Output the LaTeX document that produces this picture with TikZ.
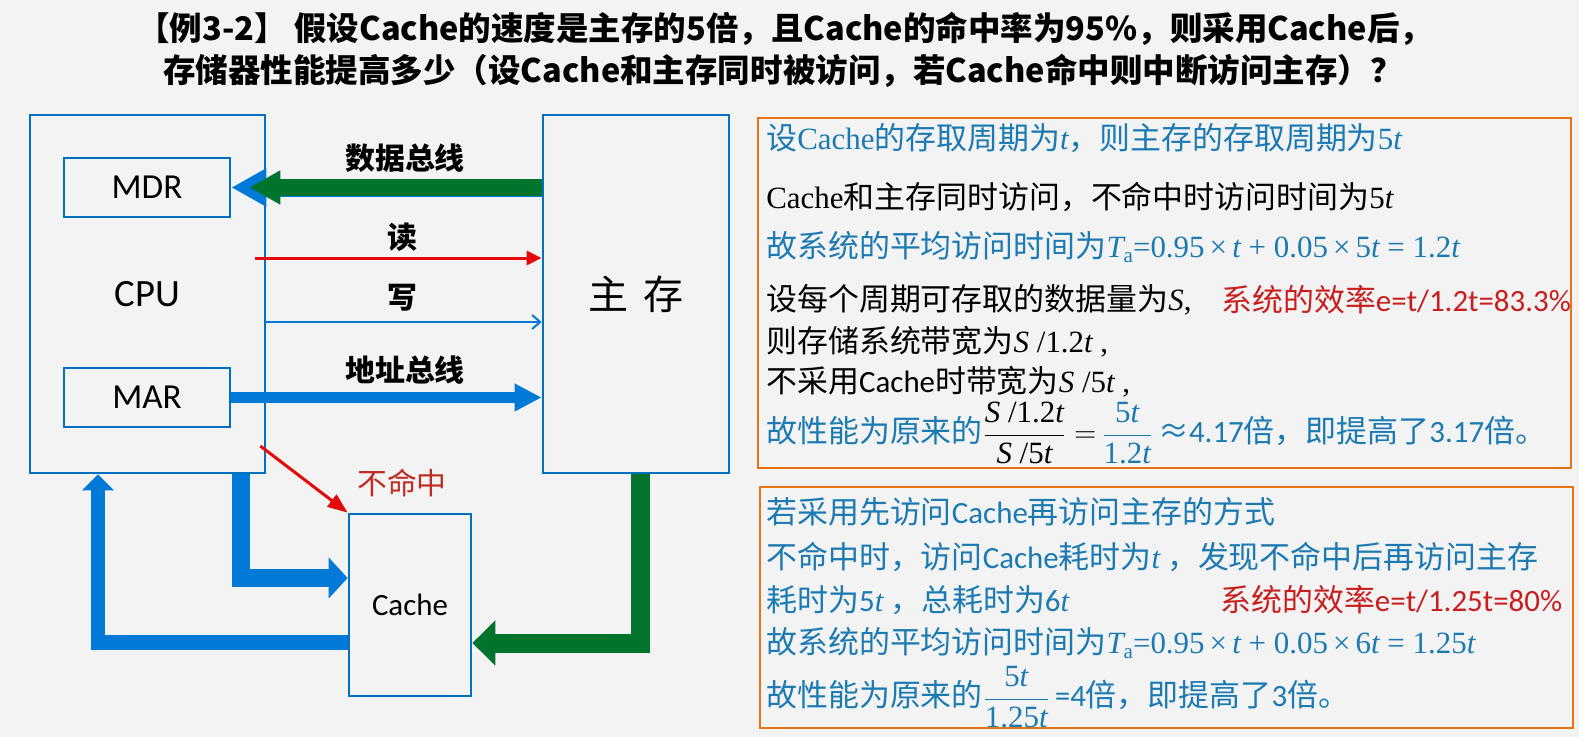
\documentclass[tikz,border=0pt]{standalone}
\usepackage{amsmath}
\usepackage{fontspec}
\usepackage{xcolor}
\usepackage{tikz}
\usetikzlibrary{arrows.meta, positioning, calc}
\setmainfont{Noto Sans CJK SC}
\newfontfamily\tnr{Liberation Serif}
\newfontfamily\cali{Carlito}
\definecolor{BoxBlue}{RGB}{0, 112, 192}
\definecolor{BusBlue}{RGB}{0, 122, 214}
\definecolor{BusGreen}{RGB}{0, 115, 45}
\definecolor{ReadRed}{RGB}{228, 10, 10}
\definecolor{MissRed}{RGB}{190, 45, 35}
\definecolor{NoteBlue}{RGB}{27, 122, 178}
\definecolor{NoteRed}{RGB}{200, 30, 30}
\definecolor{FrameOrange}{RGB}{232, 115, 20}
\definecolor{PageGrey}{RGB}{243, 243, 243}
\newcommand{\tmit}[1]{{\tnr\itshape #1}}
\newcommand{\tmrm}[1]{{\tnr #1}}
\newcommand{\clbr}[1]{{\cali #1}}
\newcommand{\Tavg}{\tmit{T}\raisebox{-0.35ex}{\tmrm{\fontsize{12}{12}\selectfont a}}}

\begin{document}
\begin{tikzpicture}[
    x=0.02cm, y=-0.02cm,
    box/.style={draw=BoxBlue, line width=0.055cm, inner sep=0pt},
    notebox/.style={draw=FrameOrange, line width=0.04cm, inner sep=0pt},
    buslabel/.style={inner sep=0pt, font=\fontsize{17}{20}\selectfont\bfseries},
    note/.style={anchor=west, inner sep=0pt, font=\fontsize{17.6}{21}\selectfont},
    titleline/.style={anchor=west, inner sep=0pt, font=\fontsize{18.5}{22}\selectfont\bfseries}
  ]
    \fill[PageGrey] (0,0) rectangle (1579,737);
    \useasboundingbox (0,0) rectangle (1579,737);

    % question
    \node[titleline] (q1) at (137,29) {【例3-2】 假设Cache的速度是主存的5倍，且Cache的命中率为95\%，则采用Cache后，};
    \node[titleline] (q2) at (163,71) {存储器性能提高多少（设Cache和主存同时被访问，若Cache命中则中断访问主存）？};

    % blocks
    \node[box, minimum width=4.7cm, minimum height=7.16cm,
      font=\cali\fontsize{22}{24}\selectfont] (cpu) at (147.5,294) {CPU};
    \node[box, minimum width=3.32cm, minimum height=1.18cm,
      font=\cali\fontsize{20}{22}\selectfont] (mdr) at (147,187.5) {MDR};
    \node[box, minimum width=3.32cm, minimum height=1.18cm,
      font=\cali\fontsize{20}{22}\selectfont] (mar) at (147,397.5) {MAR};
    \node[box, minimum width=3.72cm, minimum height=7.16cm,
      font=\fontsize{22.8}{24}\selectfont] (mem) at (636,294) {主\hspace{0.35em}存};
    \node[box, minimum width=2.44cm, minimum height=3.64cm,
      font=\cali\fontsize{17.6}{20}\selectfont] (cache) at (410,605) {Cache};

    % buses
    \draw[BusBlue, line width=0.36cm, -{Triangle[length=0.7cm, width=0.72cm]}]
      (mem.west |- mdr.east) -- (mdr.east);
    \draw[BusGreen, line width=0.34cm, -{Triangle[length=0.62cm, width=0.64cm]}]
      (mem.west |- mdr.east) -- ($(mdr.east)+(18,0)$);
    \draw[ReadRed, line width=0.06cm, -{Triangle[length=0.3cm, width=0.28cm]}]
      ($(cpu.east |- 0,258)+(-11,0)$) -- (mem.west |- 0,258);
    \draw[BusBlue, line width=0.04cm, -{Straight Barb[length=0.16cm, width=0.28cm]}]
      (cpu.east |- 0,322) -- (mem.west |- 0,322);
    \draw[BusBlue, line width=0.22cm, -{Triangle[length=0.54cm, width=0.52cm]}]
      (mar.east) -- (mem.west |- mar.east);
    \draw[ReadRed, line width=0.06cm, -{Triangle[length=0.4cm, width=0.3cm]}]
      ($(cpu.east |- 0,446)+(-6,0)$) -- (cache.north west);
    \draw[BusBlue, line width=0.36cm, -{Triangle[length=0.38cm, width=0.8cm]}]
      ($(cpu.south)+(93.5,0)$) |- ($(cache.west)+(0,-27)$);
    \draw[BusBlue, line width=0.3cm, -{Triangle[length=0.32cm, width=0.62cm]}]
      ($(cache.west)+(0,37)$) -| ($(cpu.south)+(-49.5,0)$);
    \draw[BusGreen, line width=0.38cm, -{Triangle[length=0.46cm, width=0.88cm]}]
      ($(mem.south)+(4,0)$) |- ($(cache.east)+(0,38)$);

    \node[buslabel] (databus) at (405,158) {数据总线};
    \node[buslabel] (rd) at (402,237) {读};
    \node[buslabel] (wr) at (402,298) {写};
    \node[buslabel] (addrbus) at (405,370) {地址总线};
    \node[inner sep=0pt, text=MissRed, font=\fontsize{17}{20}\selectfont] (miss) at (402,483) {不命中};

    % simultaneous access
    \node[notebox, minimum width=16.26cm, minimum height=7cm] (sol1) at (1164.5,293) {};
    \node[note, text=NoteBlue] (a1) at (766,138)
      {设\tmrm{Cache}的存取周期为\tmit{t}，则主存的存取周期为\tmrm{5}\tmit{t}};
    \node[note] (a2) at (766,197)
      {\tmrm{Cache}和主存同时访问，不命中时访问时间为\tmrm{5}\tmit{t}};
    \node[note, text=NoteBlue] (a3) at (766,247)
      {故系统的平均访问时间为\Tavg\tmrm{=0.95\,×\,}\tmit{t}\tmrm{ + 0.05\,×\,5}\tmit{t}\tmrm{ = 1.2}\tmit{t}};
    \node[note] (a4) at (766,300)
      {设每个周期可存取的数据量为\tmit{S}\tmrm{,}};
    \node[note, text=NoteRed] (a4r) at (1221,300) {系统的效率\clbr{e=t/1.2t=83.3\%}};
    \node[note] (a5) at (766,342)
      {则存储系统带宽为\tmit{S}\tmrm{ /1.2}\tmit{t}\tmrm{ ,}};
    \node[note] (a6) at (766,382)
      {不采用\clbr{Cache}时带宽为\tmit{S}\tmrm{ /5}\tmit{t}\tmrm{ ,}};
    \node[note, text=NoteBlue] (a7) at (766,433)
      {故性能为原来的\textcolor{black}{$\dfrac{\mbox{\tmit{S}\tmrm{ /1.2}\tmit{t}}}{\mbox{\tmit{S}\tmrm{ /5}\tmit{t}}}=$}\,$\dfrac{\mbox{\tmrm{5}\tmit{t}}}{\mbox{\tmrm{1.2}\tmit{t}}}$\,≈\clbr{4.17}倍，即提高了\clbr{3.17}倍。};

    % cache first, then memory
    \node[notebox, minimum width=16.26cm, minimum height=4.82cm] (sol2) at (1166.5,607.5) {};
    \node[note, text=NoteBlue] (b1) at (766,512)
      {若采用先访问\clbr{Cache}再访问主存的方式};
    \node[note, text=NoteBlue] (b2) at (766,557)
      {不命中时，访问\clbr{Cache}耗时为\tmit{t} ，发现不命中后再访问主存};
    \node[note, text=NoteBlue] (b3) at (766,600)
      {耗时为\clbr{5}\tmit{t} ，总耗时为\clbr{6}\tmit{t}};
    \node[note, text=NoteRed] (b3r) at (1220,600) {系统的效率\clbr{e=t/1.25t=80\%}};
    \node[note, text=NoteBlue] (b4) at (766,643)
      {故系统的平均访问时间为\Tavg\tmrm{=0.95\,×\,}\tmit{t}\tmrm{ + 0.05\,×\,6}\tmit{t}\tmrm{ = 1.25}\tmit{t}};
    \node[note, text=NoteBlue] (b5) at (766,697)
      {故性能为原来的$\dfrac{\mbox{\tmrm{5}\tmit{t}}}{\mbox{\tmrm{1.25}\tmit{t}}}$\,\clbr{=4}倍，即提高了\clbr{3}倍。};
\end{tikzpicture}
\end{document}
